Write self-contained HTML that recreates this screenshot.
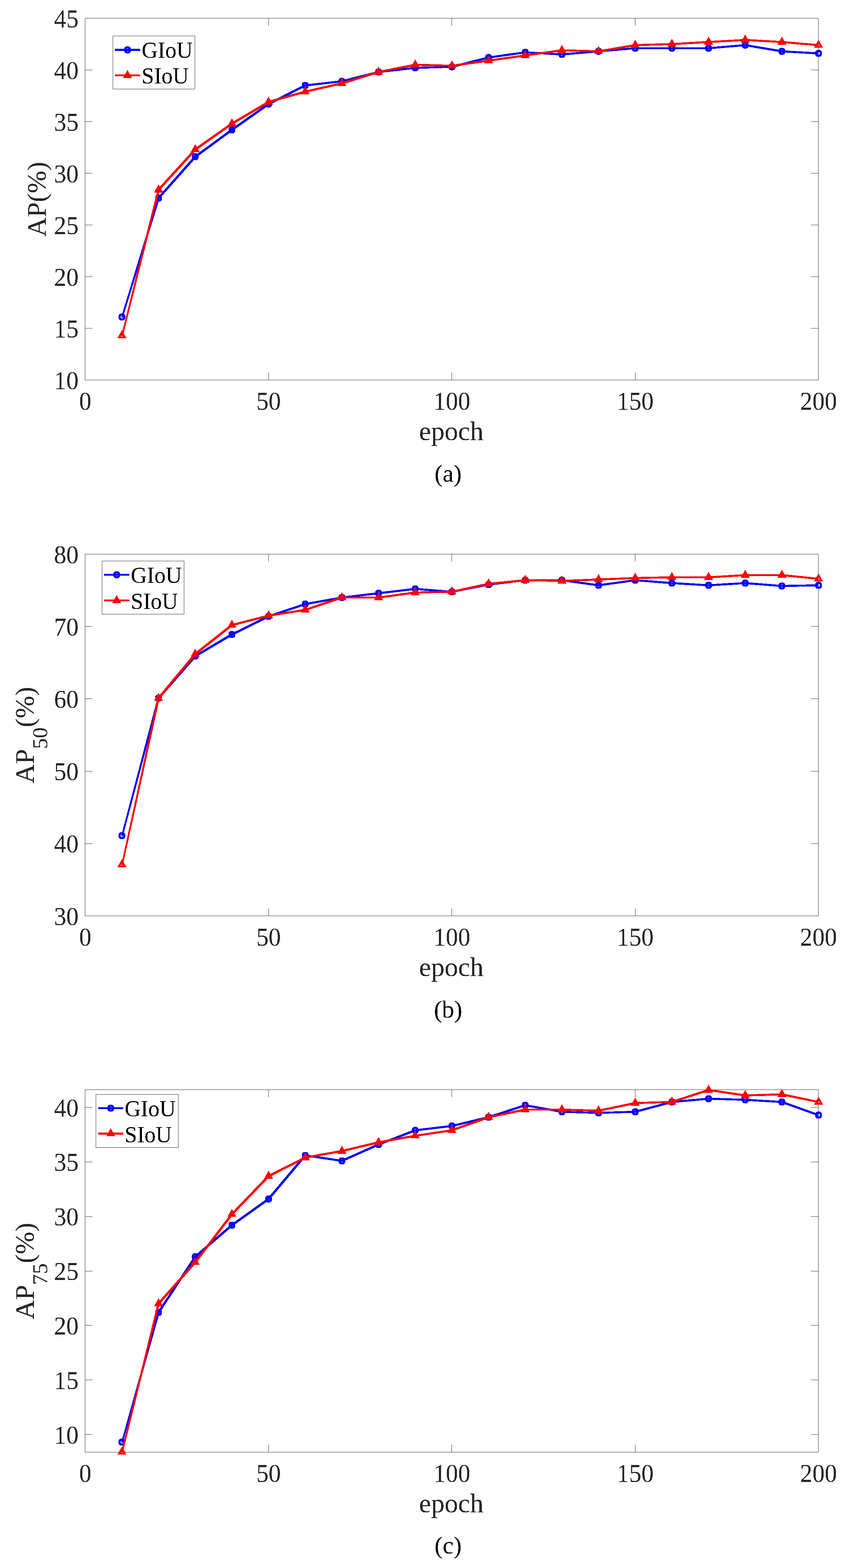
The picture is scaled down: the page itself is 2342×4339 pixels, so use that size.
<!DOCTYPE html>
<html lang="en"><head><meta charset="utf-8"><title>AP curves: GIoU vs SIoU</title>
<style>
html,body{margin:0;padding:0;background:#fff;}
body{width:2342px;height:4339px;overflow:hidden;}
svg{display:block;}
text{font-family:"Liberation Serif", "DejaVu Serif", serif;filter:url(#bw);}
.tk{font-size:68px;fill:#262626;}
.lb{font-size:74.8px;fill:#262626;}
.sb{font-size:60px;}
.lg{font-size:62px;fill:#000;}
.cp{font-size:67.5px;fill:#000;}
.ax{stroke:#262626;stroke-width:1;fill:none;shape-rendering:crispEdges;}
.bl{stroke:#0000ff;stroke-width:2.95;fill:none;stroke-linejoin:round;shape-rendering:crispEdges;}
.bk{stroke:#0000ff;stroke-width:5.6;fill:none;shape-rendering:crispEdges;}
.rd{stroke:#ff0000;stroke-width:2.95;fill:none;stroke-linejoin:round;shape-rendering:crispEdges;}
.rk{stroke:#ff0000;stroke-width:5.6;fill:none;shape-rendering:crispEdges;}
.rt{fill:#ff0000;fill-rule:evenodd;stroke:none;shape-rendering:crispEdges;}
.bc{fill:#0000ff;fill-rule:evenodd;stroke:none;shape-rendering:crispEdges;}
</style></head><body>
<svg width="2342" height="4339" viewBox="0 0 2342 4339">
<defs><filter id="bw" x="-5%" y="-20%" width="110%" height="140%" color-interpolation-filters="sRGB"><feComponentTransfer><feFuncA type="discrete" tableValues="0 1"/></feComponentTransfer></filter></defs>
<rect width="2342" height="4339" fill="#fff"/>
<g id="chart1">
<path class="ax" d="M235.5 50.5H2265.5V1051.5H235.5ZM743.5 1051.5v-20.5M743.5 50.5v20.5M1250.5 1051.5v-20.5M1250.5 50.5v20.5M1758.5 1051.5v-20.5M1758.5 50.5v20.5M235.5 908.5h20.5M2265.5 908.5h-20.5M235.5 765.5h20.5M2265.5 765.5h-20.5M235.5 622.5h20.5M2265.5 622.5h-20.5M235.5 479.5h20.5M2265.5 479.5h-20.5M235.5 336.5h20.5M2265.5 336.5h-20.5M235.5 193.5h20.5M2265.5 193.5h-20.5"/>
<text class="tk" transform="translate(236 1133.5) scale(1 1.045)" text-anchor="middle">0</text>
<text class="tk" transform="translate(743.5 1133.5) scale(1 1.045)" text-anchor="middle">50</text>
<text class="tk" transform="translate(1251 1133.5) scale(1 1.045)" text-anchor="middle">100</text>
<text class="tk" transform="translate(1758.5 1133.5) scale(1 1.045)" text-anchor="middle">150</text>
<text class="tk" transform="translate(2266 1133.5) scale(1 1.045)" text-anchor="middle">200</text>
<text class="tk" transform="translate(217.5 1076.5) scale(1 1.045)" text-anchor="end">10</text>
<text class="tk" transform="translate(217.5 933.5) scale(1 1.045)" text-anchor="end">15</text>
<text class="tk" transform="translate(217.5 790.5) scale(1 1.045)" text-anchor="end">20</text>
<text class="tk" transform="translate(217.5 647.5) scale(1 1.045)" text-anchor="end">25</text>
<text class="tk" transform="translate(217.5 504.5) scale(1 1.045)" text-anchor="end">30</text>
<text class="tk" transform="translate(217.5 361.5) scale(1 1.045)" text-anchor="end">35</text>
<text class="tk" transform="translate(217.5 218.5) scale(1 1.045)" text-anchor="end">40</text>
<text class="tk" transform="translate(217.5 75.5) scale(1 1.045)" text-anchor="end">45</text>
<text class="lb" x="1249.4" y="1218" text-anchor="middle">epoch</text>
<text class="lb" transform="translate(126.8 551.5) rotate(-90)" text-anchor="middle">AP(%)</text>
<text class="cp" x="1240.5" y="1332.8" text-anchor="middle">(a)</text>
<path class="bl" d="M337.5 877.04L439 548.14L540.5 433.74L642 359.38L743.5 287.88L845 236.4L946.5 224.96L1048 199.22L1149.5 187.78L1251 184.92L1352.5 159.18L1454 144.88L1555.5 150.6L1657 142.02L1758.5 133.44L1860 133.44L1961.5 133.44L2063 124.86L2164.5 142.02L2266 147.74M338.78 878.32L440.28 549.42L541.78 435.02L643.28 360.66L744.78 289.16L846.28 237.68L947.78 226.24L1049.28 200.5L1150.78 189.06L1252.28 186.2L1353.78 160.46L1455.28 146.16L1556.78 151.88L1658.28 143.3L1759.78 134.72L1861.28 134.72L1962.78 134.72L2064.28 126.14L2165.78 143.3L2266 149.02M338.78 875.76L440.28 546.86L541.78 432.46L643.28 358.1L744.78 286.6L846.28 235.12L947.78 223.68L1049.28 197.94L1150.78 186.5L1252.28 183.64L1353.78 157.9L1455.28 143.6L1556.78 149.32L1658.28 140.74L1759.78 132.16L1861.28 132.16L1962.78 132.16L2064.28 123.58L2165.78 140.74L2266 146.46M337.5 878.32L437.72 549.42L539.22 435.02L640.72 360.66L742.22 289.16L843.72 237.68L945.22 226.24L1046.72 200.5L1148.22 189.06L1249.72 186.2L1351.22 160.46L1452.72 146.16L1554.22 151.88L1655.72 143.3L1757.22 134.72L1858.72 134.72L1960.22 134.72L2061.72 126.14L2163.22 143.3L2264.72 149.02M337.5 875.76L437.72 546.86L539.22 432.46L640.72 358.1L742.22 286.6L843.72 235.12L945.22 223.68L1046.72 197.94L1148.22 186.5L1249.72 183.64L1351.22 157.9L1452.72 143.6L1554.22 149.32L1655.72 140.74L1757.22 132.16L1858.72 132.16L1960.22 132.16L2061.72 123.58L2163.22 140.74L2264.72 146.46"/>
<path class="bc" transform="translate(337.5 877.04)" d="M-1.85-9.7H1.85A7.45 7.45 0 0 1 9.3-2.25V2.25A7.45 7.45 0 0 1 1.85 9.7H-1.85A7.45 7.45 0 0 1-9.3 2.25V-2.25A7.45 7.45 0 0 1-1.85-9.7ZM0-3.8A3.8 3.8 0 0 0 0 3.8A3.8 3.8 0 0 0 0-3.8Z"/>
<path class="bc" transform="translate(439 548.14)" d="M-1.85-9.7H1.85A7.45 7.45 0 0 1 9.3-2.25V2.25A7.45 7.45 0 0 1 1.85 9.7H-1.85A7.45 7.45 0 0 1-9.3 2.25V-2.25A7.45 7.45 0 0 1-1.85-9.7ZM0-3.8A3.8 3.8 0 0 0 0 3.8A3.8 3.8 0 0 0 0-3.8Z"/>
<path class="bc" transform="translate(540.5 433.74)" d="M-1.85-9.7H1.85A7.45 7.45 0 0 1 9.3-2.25V2.25A7.45 7.45 0 0 1 1.85 9.7H-1.85A7.45 7.45 0 0 1-9.3 2.25V-2.25A7.45 7.45 0 0 1-1.85-9.7ZM0-3.8A3.8 3.8 0 0 0 0 3.8A3.8 3.8 0 0 0 0-3.8Z"/>
<path class="bc" transform="translate(642 359.38)" d="M-1.85-9.7H1.85A7.45 7.45 0 0 1 9.3-2.25V2.25A7.45 7.45 0 0 1 1.85 9.7H-1.85A7.45 7.45 0 0 1-9.3 2.25V-2.25A7.45 7.45 0 0 1-1.85-9.7ZM0-3.8A3.8 3.8 0 0 0 0 3.8A3.8 3.8 0 0 0 0-3.8Z"/>
<path class="bc" transform="translate(743.5 287.88)" d="M-1.85-9.7H1.85A7.45 7.45 0 0 1 9.3-2.25V2.25A7.45 7.45 0 0 1 1.85 9.7H-1.85A7.45 7.45 0 0 1-9.3 2.25V-2.25A7.45 7.45 0 0 1-1.85-9.7ZM0-3.8A3.8 3.8 0 0 0 0 3.8A3.8 3.8 0 0 0 0-3.8Z"/>
<path class="bc" transform="translate(845 236.4)" d="M-1.85-9.7H1.85A7.45 7.45 0 0 1 9.3-2.25V2.25A7.45 7.45 0 0 1 1.85 9.7H-1.85A7.45 7.45 0 0 1-9.3 2.25V-2.25A7.45 7.45 0 0 1-1.85-9.7ZM0-3.8A3.8 3.8 0 0 0 0 3.8A3.8 3.8 0 0 0 0-3.8Z"/>
<path class="bc" transform="translate(946.5 224.96)" d="M-1.85-9.7H1.85A7.45 7.45 0 0 1 9.3-2.25V2.25A7.45 7.45 0 0 1 1.85 9.7H-1.85A7.45 7.45 0 0 1-9.3 2.25V-2.25A7.45 7.45 0 0 1-1.85-9.7ZM0-3.8A3.8 3.8 0 0 0 0 3.8A3.8 3.8 0 0 0 0-3.8Z"/>
<path class="bc" transform="translate(1048 199.22)" d="M-1.85-9.7H1.85A7.45 7.45 0 0 1 9.3-2.25V2.25A7.45 7.45 0 0 1 1.85 9.7H-1.85A7.45 7.45 0 0 1-9.3 2.25V-2.25A7.45 7.45 0 0 1-1.85-9.7ZM0-3.8A3.8 3.8 0 0 0 0 3.8A3.8 3.8 0 0 0 0-3.8Z"/>
<path class="bc" transform="translate(1149.5 187.78)" d="M-1.85-9.7H1.85A7.45 7.45 0 0 1 9.3-2.25V2.25A7.45 7.45 0 0 1 1.85 9.7H-1.85A7.45 7.45 0 0 1-9.3 2.25V-2.25A7.45 7.45 0 0 1-1.85-9.7ZM0-3.8A3.8 3.8 0 0 0 0 3.8A3.8 3.8 0 0 0 0-3.8Z"/>
<path class="bc" transform="translate(1251 184.92)" d="M-1.85-9.7H1.85A7.45 7.45 0 0 1 9.3-2.25V2.25A7.45 7.45 0 0 1 1.85 9.7H-1.85A7.45 7.45 0 0 1-9.3 2.25V-2.25A7.45 7.45 0 0 1-1.85-9.7ZM0-3.8A3.8 3.8 0 0 0 0 3.8A3.8 3.8 0 0 0 0-3.8Z"/>
<path class="bc" transform="translate(1352.5 159.18)" d="M-1.85-9.7H1.85A7.45 7.45 0 0 1 9.3-2.25V2.25A7.45 7.45 0 0 1 1.85 9.7H-1.85A7.45 7.45 0 0 1-9.3 2.25V-2.25A7.45 7.45 0 0 1-1.85-9.7ZM0-3.8A3.8 3.8 0 0 0 0 3.8A3.8 3.8 0 0 0 0-3.8Z"/>
<path class="bc" transform="translate(1454 144.88)" d="M-1.85-9.7H1.85A7.45 7.45 0 0 1 9.3-2.25V2.25A7.45 7.45 0 0 1 1.85 9.7H-1.85A7.45 7.45 0 0 1-9.3 2.25V-2.25A7.45 7.45 0 0 1-1.85-9.7ZM0-3.8A3.8 3.8 0 0 0 0 3.8A3.8 3.8 0 0 0 0-3.8Z"/>
<path class="bc" transform="translate(1555.5 150.6)" d="M-1.85-9.7H1.85A7.45 7.45 0 0 1 9.3-2.25V2.25A7.45 7.45 0 0 1 1.85 9.7H-1.85A7.45 7.45 0 0 1-9.3 2.25V-2.25A7.45 7.45 0 0 1-1.85-9.7ZM0-3.8A3.8 3.8 0 0 0 0 3.8A3.8 3.8 0 0 0 0-3.8Z"/>
<path class="bc" transform="translate(1657 142.02)" d="M-1.85-9.7H1.85A7.45 7.45 0 0 1 9.3-2.25V2.25A7.45 7.45 0 0 1 1.85 9.7H-1.85A7.45 7.45 0 0 1-9.3 2.25V-2.25A7.45 7.45 0 0 1-1.85-9.7ZM0-3.8A3.8 3.8 0 0 0 0 3.8A3.8 3.8 0 0 0 0-3.8Z"/>
<path class="bc" transform="translate(1758.5 133.44)" d="M-1.85-9.7H1.85A7.45 7.45 0 0 1 9.3-2.25V2.25A7.45 7.45 0 0 1 1.85 9.7H-1.85A7.45 7.45 0 0 1-9.3 2.25V-2.25A7.45 7.45 0 0 1-1.85-9.7ZM0-3.8A3.8 3.8 0 0 0 0 3.8A3.8 3.8 0 0 0 0-3.8Z"/>
<path class="bc" transform="translate(1860 133.44)" d="M-1.85-9.7H1.85A7.45 7.45 0 0 1 9.3-2.25V2.25A7.45 7.45 0 0 1 1.85 9.7H-1.85A7.45 7.45 0 0 1-9.3 2.25V-2.25A7.45 7.45 0 0 1-1.85-9.7ZM0-3.8A3.8 3.8 0 0 0 0 3.8A3.8 3.8 0 0 0 0-3.8Z"/>
<path class="bc" transform="translate(1961.5 133.44)" d="M-1.85-9.7H1.85A7.45 7.45 0 0 1 9.3-2.25V2.25A7.45 7.45 0 0 1 1.85 9.7H-1.85A7.45 7.45 0 0 1-9.3 2.25V-2.25A7.45 7.45 0 0 1-1.85-9.7ZM0-3.8A3.8 3.8 0 0 0 0 3.8A3.8 3.8 0 0 0 0-3.8Z"/>
<path class="bc" transform="translate(2063 124.86)" d="M-1.85-9.7H1.85A7.45 7.45 0 0 1 9.3-2.25V2.25A7.45 7.45 0 0 1 1.85 9.7H-1.85A7.45 7.45 0 0 1-9.3 2.25V-2.25A7.45 7.45 0 0 1-1.85-9.7ZM0-3.8A3.8 3.8 0 0 0 0 3.8A3.8 3.8 0 0 0 0-3.8Z"/>
<path class="bc" transform="translate(2164.5 142.02)" d="M-1.85-9.7H1.85A7.45 7.45 0 0 1 9.3-2.25V2.25A7.45 7.45 0 0 1 1.85 9.7H-1.85A7.45 7.45 0 0 1-9.3 2.25V-2.25A7.45 7.45 0 0 1-1.85-9.7ZM0-3.8A3.8 3.8 0 0 0 0 3.8A3.8 3.8 0 0 0 0-3.8Z"/>
<path class="bc" transform="translate(2266 147.74)" d="M-1.85-9.7H1.85A7.45 7.45 0 0 1 9.3-2.25V2.25A7.45 7.45 0 0 1 1.85 9.7H-1.85A7.45 7.45 0 0 1-9.3 2.25V-2.25A7.45 7.45 0 0 1-1.85-9.7ZM0-3.8A3.8 3.8 0 0 0 0 3.8A3.8 3.8 0 0 0 0-3.8Z"/>
<path class="rd" d="M337.5 928.52L439 525.26L540.5 413.72L642 342.22L743.5 282.16L845 253.56L946.5 230.68L1048 199.22L1149.5 179.2L1251 182.06L1352.5 167.76L1454 153.46L1555.5 139.16L1657 142.02L1758.5 124.86L1860 122L1961.5 116.28L2063 110.56L2164.5 116.28L2266 124.86M338.78 929.8L440.28 526.54L541.78 415L643.28 343.5L744.78 283.44L846.28 254.84L947.78 231.96L1049.28 200.5L1150.78 180.48L1252.28 183.34L1353.78 169.04L1455.28 154.74L1556.78 140.44L1658.28 143.3L1759.78 126.14L1861.28 123.28L1962.78 117.56L2064.28 111.84L2165.78 117.56L2266 126.14M338.78 927.24L440.28 523.98L541.78 412.44L643.28 340.94L744.78 280.88L846.28 252.28L947.78 229.4L1049.28 197.94L1150.78 177.92L1252.28 180.78L1353.78 166.48L1455.28 152.18L1556.78 137.88L1658.28 140.74L1759.78 123.58L1861.28 120.72L1962.78 115L2064.28 109.28L2165.78 115L2266 123.58M337.5 929.8L437.72 526.54L539.22 415L640.72 343.5L742.22 283.44L843.72 254.84L945.22 231.96L1046.72 200.5L1148.22 180.48L1249.72 183.34L1351.22 169.04L1452.72 154.74L1554.22 140.44L1655.72 143.3L1757.22 126.14L1858.72 123.28L1960.22 117.56L2061.72 111.84L2163.22 117.56L2264.72 126.14M337.5 927.24L437.72 523.98L539.22 412.44L640.72 340.94L742.22 280.88L843.72 252.28L945.22 229.4L1046.72 197.94L1148.22 177.92L1249.72 180.78L1351.22 166.48L1452.72 152.18L1554.22 137.88L1655.72 140.74L1757.22 123.58L1858.72 120.72L1960.22 115L2061.72 109.28L2163.22 115L2264.72 123.58"/>
<path class="rt" transform="translate(337.5 928.52)" d="M0-15L12.5 7.35H-12.5ZM0-2.8L-3.5 2.3H3.5Z"/>
<path class="rt" transform="translate(439 525.26)" d="M0-15L12.5 7.35H-12.5ZM0-2.8L-3.5 2.3H3.5Z"/>
<path class="rt" transform="translate(540.5 413.72)" d="M0-15L12.5 7.35H-12.5ZM0-2.8L-3.5 2.3H3.5Z"/>
<path class="rt" transform="translate(642 342.22)" d="M0-15L12.5 7.35H-12.5ZM0-2.8L-3.5 2.3H3.5Z"/>
<path class="rt" transform="translate(743.5 282.16)" d="M0-15L12.5 7.35H-12.5ZM0-2.8L-3.5 2.3H3.5Z"/>
<path class="rt" transform="translate(845 253.56)" d="M0-15L12.5 7.35H-12.5ZM0-2.8L-3.5 2.3H3.5Z"/>
<path class="rt" transform="translate(946.5 230.68)" d="M0-15L12.5 7.35H-12.5ZM0-2.8L-3.5 2.3H3.5Z"/>
<path class="rt" transform="translate(1048 199.22)" d="M0-15L12.5 7.35H-12.5ZM0-2.8L-3.5 2.3H3.5Z"/>
<path class="rt" transform="translate(1149.5 179.2)" d="M0-15L12.5 7.35H-12.5ZM0-2.8L-3.5 2.3H3.5Z"/>
<path class="rt" transform="translate(1251 182.06)" d="M0-15L12.5 7.35H-12.5ZM0-2.8L-3.5 2.3H3.5Z"/>
<path class="rt" transform="translate(1352.5 167.76)" d="M0-15L12.5 7.35H-12.5ZM0-2.8L-3.5 2.3H3.5Z"/>
<path class="rt" transform="translate(1454 153.46)" d="M0-15L12.5 7.35H-12.5ZM0-2.8L-3.5 2.3H3.5Z"/>
<path class="rt" transform="translate(1555.5 139.16)" d="M0-15L12.5 7.35H-12.5ZM0-2.8L-3.5 2.3H3.5Z"/>
<path class="rt" transform="translate(1657 142.02)" d="M0-15L12.5 7.35H-12.5ZM0-2.8L-3.5 2.3H3.5Z"/>
<path class="rt" transform="translate(1758.5 124.86)" d="M0-15L12.5 7.35H-12.5ZM0-2.8L-3.5 2.3H3.5Z"/>
<path class="rt" transform="translate(1860 122)" d="M0-15L12.5 7.35H-12.5ZM0-2.8L-3.5 2.3H3.5Z"/>
<path class="rt" transform="translate(1961.5 116.28)" d="M0-15L12.5 7.35H-12.5ZM0-2.8L-3.5 2.3H3.5Z"/>
<path class="rt" transform="translate(2063 110.56)" d="M0-15L12.5 7.35H-12.5ZM0-2.8L-3.5 2.3H3.5Z"/>
<path class="rt" transform="translate(2164.5 116.28)" d="M0-15L12.5 7.35H-12.5ZM0-2.8L-3.5 2.3H3.5Z"/>
<path class="rt" transform="translate(2266 124.86)" d="M0-15L12.5 7.35H-12.5ZM0-2.8L-3.5 2.3H3.5Z"/>
<rect x="312.5" y="99.5" width="227" height="147" fill="#fff" stroke="#262626" stroke-width="1" shape-rendering="crispEdges"/>
<path class="bk" d="M318 138H388"/>
<path class="bc" transform="translate(353 138)" d="M-1.85-9.7H1.85A7.45 7.45 0 0 1 9.3-2.25V2.25A7.45 7.45 0 0 1 1.85 9.7H-1.85A7.45 7.45 0 0 1-9.3 2.25V-2.25A7.45 7.45 0 0 1-1.85-9.7ZM0-3.8A3.8 3.8 0 0 0 0 3.8A3.8 3.8 0 0 0 0-3.8Z"/>
<path class="rk" d="M318 208.5H388"/>
<path class="rt" transform="translate(353 208.5)" d="M0-15L12.5 7.35H-12.5ZM0-2.8L-3.5 2.3H3.5Z"/>
<text class="lg" transform="translate(392 159.9) scale(1 1.02)">GIoU</text>
<text class="lg" transform="translate(392 231.4) scale(1 1.02)">SIoU</text>
</g>
<g id="chart2">
<path class="ax" d="M235.5 1533.5H2265.5V2534.5H235.5ZM743.5 2534.5v-20.5M743.5 1533.5v20.5M1250.5 2534.5v-20.5M1250.5 1533.5v20.5M1758.5 2534.5v-20.5M1758.5 1533.5v20.5M235.5 2334.5h20.5M2265.5 2334.5h-20.5M235.5 2134.5h20.5M2265.5 2134.5h-20.5M235.5 1933.5h20.5M2265.5 1933.5h-20.5M235.5 1733.5h20.5M2265.5 1733.5h-20.5"/>
<text class="tk" transform="translate(236 2616.5) scale(1 1.045)" text-anchor="middle">0</text>
<text class="tk" transform="translate(743.5 2616.5) scale(1 1.045)" text-anchor="middle">50</text>
<text class="tk" transform="translate(1251 2616.5) scale(1 1.045)" text-anchor="middle">100</text>
<text class="tk" transform="translate(1758.5 2616.5) scale(1 1.045)" text-anchor="middle">150</text>
<text class="tk" transform="translate(2266 2616.5) scale(1 1.045)" text-anchor="middle">200</text>
<text class="tk" transform="translate(217.5 2559.5) scale(1 1.045)" text-anchor="end">30</text>
<text class="tk" transform="translate(217.5 2359.3) scale(1 1.045)" text-anchor="end">40</text>
<text class="tk" transform="translate(217.5 2159.1) scale(1 1.045)" text-anchor="end">50</text>
<text class="tk" transform="translate(217.5 1958.9) scale(1 1.045)" text-anchor="end">60</text>
<text class="tk" transform="translate(217.5 1758.7) scale(1 1.045)" text-anchor="end">70</text>
<text class="tk" transform="translate(217.5 1558.5) scale(1 1.045)" text-anchor="end">80</text>
<text class="lb" x="1249.4" y="2701" text-anchor="middle">epoch</text>
<text class="lb" transform="translate(93.6 2034.5) rotate(-90)" text-anchor="middle">AP<tspan class="sb" dy="37.4">50</tspan><tspan dy="-37.4">(%)</tspan></text>
<text class="cp" x="1240.5" y="2815.8" text-anchor="middle">(b)</text>
<path class="bl" d="M337.5 2312.28L439 1931.9L540.5 1815.78L642 1755.72L743.5 1705.67L845 1671.64L946.5 1653.62L1048 1641.61L1149.5 1629.6L1251 1637.6L1352.5 1617.58L1454 1605.57L1555.5 1605.57L1657 1619.59L1758.5 1605.57L1860 1613.58L1961.5 1619.59L2063 1613.58L2164.5 1621.59L2266 1619.59M338.78 2313.56L440.28 1933.18L541.78 1817.06L643.28 1757L744.78 1706.95L846.28 1672.92L947.78 1654.9L1049.28 1642.89L1150.78 1630.88L1252.28 1638.88L1353.78 1618.86L1455.28 1606.85L1556.78 1606.85L1658.28 1620.87L1759.78 1606.85L1861.28 1614.86L1962.78 1620.87L2064.28 1614.86L2165.78 1622.87L2266 1620.87M338.78 2311L440.28 1930.62L541.78 1814.5L643.28 1754.44L744.78 1704.39L846.28 1670.36L947.78 1652.34L1049.28 1640.33L1150.78 1628.32L1252.28 1636.32L1353.78 1616.3L1455.28 1604.29L1556.78 1604.29L1658.28 1618.31L1759.78 1604.29L1861.28 1612.3L1962.78 1618.31L2064.28 1612.3L2165.78 1620.31L2266 1618.31M337.5 2313.56L437.72 1933.18L539.22 1817.06L640.72 1757L742.22 1706.95L843.72 1672.92L945.22 1654.9L1046.72 1642.89L1148.22 1630.88L1249.72 1638.88L1351.22 1618.86L1452.72 1606.85L1554.22 1606.85L1655.72 1620.87L1757.22 1606.85L1858.72 1614.86L1960.22 1620.87L2061.72 1614.86L2163.22 1622.87L2264.72 1620.87M337.5 2311L437.72 1930.62L539.22 1814.5L640.72 1754.44L742.22 1704.39L843.72 1670.36L945.22 1652.34L1046.72 1640.33L1148.22 1628.32L1249.72 1636.32L1351.22 1616.3L1452.72 1604.29L1554.22 1604.29L1655.72 1618.31L1757.22 1604.29L1858.72 1612.3L1960.22 1618.31L2061.72 1612.3L2163.22 1620.31L2264.72 1618.31"/>
<path class="bc" transform="translate(337.5 2312.28)" d="M-1.85-9.7H1.85A7.45 7.45 0 0 1 9.3-2.25V2.25A7.45 7.45 0 0 1 1.85 9.7H-1.85A7.45 7.45 0 0 1-9.3 2.25V-2.25A7.45 7.45 0 0 1-1.85-9.7ZM0-3.8A3.8 3.8 0 0 0 0 3.8A3.8 3.8 0 0 0 0-3.8Z"/>
<path class="bc" transform="translate(439 1931.9)" d="M-1.85-9.7H1.85A7.45 7.45 0 0 1 9.3-2.25V2.25A7.45 7.45 0 0 1 1.85 9.7H-1.85A7.45 7.45 0 0 1-9.3 2.25V-2.25A7.45 7.45 0 0 1-1.85-9.7ZM0-3.8A3.8 3.8 0 0 0 0 3.8A3.8 3.8 0 0 0 0-3.8Z"/>
<path class="bc" transform="translate(540.5 1815.78)" d="M-1.85-9.7H1.85A7.45 7.45 0 0 1 9.3-2.25V2.25A7.45 7.45 0 0 1 1.85 9.7H-1.85A7.45 7.45 0 0 1-9.3 2.25V-2.25A7.45 7.45 0 0 1-1.85-9.7ZM0-3.8A3.8 3.8 0 0 0 0 3.8A3.8 3.8 0 0 0 0-3.8Z"/>
<path class="bc" transform="translate(642 1755.72)" d="M-1.85-9.7H1.85A7.45 7.45 0 0 1 9.3-2.25V2.25A7.45 7.45 0 0 1 1.85 9.7H-1.85A7.45 7.45 0 0 1-9.3 2.25V-2.25A7.45 7.45 0 0 1-1.85-9.7ZM0-3.8A3.8 3.8 0 0 0 0 3.8A3.8 3.8 0 0 0 0-3.8Z"/>
<path class="bc" transform="translate(743.5 1705.67)" d="M-1.85-9.7H1.85A7.45 7.45 0 0 1 9.3-2.25V2.25A7.45 7.45 0 0 1 1.85 9.7H-1.85A7.45 7.45 0 0 1-9.3 2.25V-2.25A7.45 7.45 0 0 1-1.85-9.7ZM0-3.8A3.8 3.8 0 0 0 0 3.8A3.8 3.8 0 0 0 0-3.8Z"/>
<path class="bc" transform="translate(845 1671.64)" d="M-1.85-9.7H1.85A7.45 7.45 0 0 1 9.3-2.25V2.25A7.45 7.45 0 0 1 1.85 9.7H-1.85A7.45 7.45 0 0 1-9.3 2.25V-2.25A7.45 7.45 0 0 1-1.85-9.7ZM0-3.8A3.8 3.8 0 0 0 0 3.8A3.8 3.8 0 0 0 0-3.8Z"/>
<path class="bc" transform="translate(946.5 1653.62)" d="M-1.85-9.7H1.85A7.45 7.45 0 0 1 9.3-2.25V2.25A7.45 7.45 0 0 1 1.85 9.7H-1.85A7.45 7.45 0 0 1-9.3 2.25V-2.25A7.45 7.45 0 0 1-1.85-9.7ZM0-3.8A3.8 3.8 0 0 0 0 3.8A3.8 3.8 0 0 0 0-3.8Z"/>
<path class="bc" transform="translate(1048 1641.61)" d="M-1.85-9.7H1.85A7.45 7.45 0 0 1 9.3-2.25V2.25A7.45 7.45 0 0 1 1.85 9.7H-1.85A7.45 7.45 0 0 1-9.3 2.25V-2.25A7.45 7.45 0 0 1-1.85-9.7ZM0-3.8A3.8 3.8 0 0 0 0 3.8A3.8 3.8 0 0 0 0-3.8Z"/>
<path class="bc" transform="translate(1149.5 1629.6)" d="M-1.85-9.7H1.85A7.45 7.45 0 0 1 9.3-2.25V2.25A7.45 7.45 0 0 1 1.85 9.7H-1.85A7.45 7.45 0 0 1-9.3 2.25V-2.25A7.45 7.45 0 0 1-1.85-9.7ZM0-3.8A3.8 3.8 0 0 0 0 3.8A3.8 3.8 0 0 0 0-3.8Z"/>
<path class="bc" transform="translate(1251 1637.6)" d="M-1.85-9.7H1.85A7.45 7.45 0 0 1 9.3-2.25V2.25A7.45 7.45 0 0 1 1.85 9.7H-1.85A7.45 7.45 0 0 1-9.3 2.25V-2.25A7.45 7.45 0 0 1-1.85-9.7ZM0-3.8A3.8 3.8 0 0 0 0 3.8A3.8 3.8 0 0 0 0-3.8Z"/>
<path class="bc" transform="translate(1352.5 1617.58)" d="M-1.85-9.7H1.85A7.45 7.45 0 0 1 9.3-2.25V2.25A7.45 7.45 0 0 1 1.85 9.7H-1.85A7.45 7.45 0 0 1-9.3 2.25V-2.25A7.45 7.45 0 0 1-1.85-9.7ZM0-3.8A3.8 3.8 0 0 0 0 3.8A3.8 3.8 0 0 0 0-3.8Z"/>
<path class="bc" transform="translate(1454 1605.57)" d="M-1.85-9.7H1.85A7.45 7.45 0 0 1 9.3-2.25V2.25A7.45 7.45 0 0 1 1.85 9.7H-1.85A7.45 7.45 0 0 1-9.3 2.25V-2.25A7.45 7.45 0 0 1-1.85-9.7ZM0-3.8A3.8 3.8 0 0 0 0 3.8A3.8 3.8 0 0 0 0-3.8Z"/>
<path class="bc" transform="translate(1555.5 1605.57)" d="M-1.85-9.7H1.85A7.45 7.45 0 0 1 9.3-2.25V2.25A7.45 7.45 0 0 1 1.85 9.7H-1.85A7.45 7.45 0 0 1-9.3 2.25V-2.25A7.45 7.45 0 0 1-1.85-9.7ZM0-3.8A3.8 3.8 0 0 0 0 3.8A3.8 3.8 0 0 0 0-3.8Z"/>
<path class="bc" transform="translate(1657 1619.59)" d="M-1.85-9.7H1.85A7.45 7.45 0 0 1 9.3-2.25V2.25A7.45 7.45 0 0 1 1.85 9.7H-1.85A7.45 7.45 0 0 1-9.3 2.25V-2.25A7.45 7.45 0 0 1-1.85-9.7ZM0-3.8A3.8 3.8 0 0 0 0 3.8A3.8 3.8 0 0 0 0-3.8Z"/>
<path class="bc" transform="translate(1758.5 1605.57)" d="M-1.85-9.7H1.85A7.45 7.45 0 0 1 9.3-2.25V2.25A7.45 7.45 0 0 1 1.85 9.7H-1.85A7.45 7.45 0 0 1-9.3 2.25V-2.25A7.45 7.45 0 0 1-1.85-9.7ZM0-3.8A3.8 3.8 0 0 0 0 3.8A3.8 3.8 0 0 0 0-3.8Z"/>
<path class="bc" transform="translate(1860 1613.58)" d="M-1.85-9.7H1.85A7.45 7.45 0 0 1 9.3-2.25V2.25A7.45 7.45 0 0 1 1.85 9.7H-1.85A7.45 7.45 0 0 1-9.3 2.25V-2.25A7.45 7.45 0 0 1-1.85-9.7ZM0-3.8A3.8 3.8 0 0 0 0 3.8A3.8 3.8 0 0 0 0-3.8Z"/>
<path class="bc" transform="translate(1961.5 1619.59)" d="M-1.85-9.7H1.85A7.45 7.45 0 0 1 9.3-2.25V2.25A7.45 7.45 0 0 1 1.85 9.7H-1.85A7.45 7.45 0 0 1-9.3 2.25V-2.25A7.45 7.45 0 0 1-1.85-9.7ZM0-3.8A3.8 3.8 0 0 0 0 3.8A3.8 3.8 0 0 0 0-3.8Z"/>
<path class="bc" transform="translate(2063 1613.58)" d="M-1.85-9.7H1.85A7.45 7.45 0 0 1 9.3-2.25V2.25A7.45 7.45 0 0 1 1.85 9.7H-1.85A7.45 7.45 0 0 1-9.3 2.25V-2.25A7.45 7.45 0 0 1-1.85-9.7ZM0-3.8A3.8 3.8 0 0 0 0 3.8A3.8 3.8 0 0 0 0-3.8Z"/>
<path class="bc" transform="translate(2164.5 1621.59)" d="M-1.85-9.7H1.85A7.45 7.45 0 0 1 9.3-2.25V2.25A7.45 7.45 0 0 1 1.85 9.7H-1.85A7.45 7.45 0 0 1-9.3 2.25V-2.25A7.45 7.45 0 0 1-1.85-9.7ZM0-3.8A3.8 3.8 0 0 0 0 3.8A3.8 3.8 0 0 0 0-3.8Z"/>
<path class="bc" transform="translate(2266 1619.59)" d="M-1.85-9.7H1.85A7.45 7.45 0 0 1 9.3-2.25V2.25A7.45 7.45 0 0 1 1.85 9.7H-1.85A7.45 7.45 0 0 1-9.3 2.25V-2.25A7.45 7.45 0 0 1-1.85-9.7ZM0-3.8A3.8 3.8 0 0 0 0 3.8A3.8 3.8 0 0 0 0-3.8Z"/>
<path class="rd" d="M337.5 2392.36L439 1931.9L540.5 1809.78L642 1729.7L743.5 1703.67L845 1687.65L946.5 1653.62L1048 1653.62L1149.5 1639.61L1251 1637.6L1352.5 1615.58L1454 1605.57L1555.5 1607.57L1657 1603.57L1758.5 1599.57L1860 1597.56L1961.5 1597.56L2063 1591.56L2164.5 1591.56L2266 1601.57M338.78 2393.64L440.28 1933.18L541.78 1811.06L643.28 1730.98L744.78 1704.95L846.28 1688.93L947.78 1654.9L1049.28 1654.9L1150.78 1640.89L1252.28 1638.88L1353.78 1616.86L1455.28 1606.85L1556.78 1608.85L1658.28 1604.85L1759.78 1600.85L1861.28 1598.84L1962.78 1598.84L2064.28 1592.84L2165.78 1592.84L2266 1602.85M338.78 2391.08L440.28 1930.62L541.78 1808.5L643.28 1728.42L744.78 1702.39L846.28 1686.37L947.78 1652.34L1049.28 1652.34L1150.78 1638.33L1252.28 1636.32L1353.78 1614.3L1455.28 1604.29L1556.78 1606.29L1658.28 1602.29L1759.78 1598.29L1861.28 1596.28L1962.78 1596.28L2064.28 1590.28L2165.78 1590.28L2266 1600.29M337.5 2393.64L437.72 1933.18L539.22 1811.06L640.72 1730.98L742.22 1704.95L843.72 1688.93L945.22 1654.9L1046.72 1654.9L1148.22 1640.89L1249.72 1638.88L1351.22 1616.86L1452.72 1606.85L1554.22 1608.85L1655.72 1604.85L1757.22 1600.85L1858.72 1598.84L1960.22 1598.84L2061.72 1592.84L2163.22 1592.84L2264.72 1602.85M337.5 2391.08L437.72 1930.62L539.22 1808.5L640.72 1728.42L742.22 1702.39L843.72 1686.37L945.22 1652.34L1046.72 1652.34L1148.22 1638.33L1249.72 1636.32L1351.22 1614.3L1452.72 1604.29L1554.22 1606.29L1655.72 1602.29L1757.22 1598.29L1858.72 1596.28L1960.22 1596.28L2061.72 1590.28L2163.22 1590.28L2264.72 1600.29"/>
<path class="rt" transform="translate(337.5 2392.36)" d="M0-15L12.5 7.35H-12.5ZM0-2.8L-3.5 2.3H3.5Z"/>
<path class="rt" transform="translate(439 1931.9)" d="M0-15L12.5 7.35H-12.5ZM0-2.8L-3.5 2.3H3.5Z"/>
<path class="rt" transform="translate(540.5 1809.78)" d="M0-15L12.5 7.35H-12.5ZM0-2.8L-3.5 2.3H3.5Z"/>
<path class="rt" transform="translate(642 1729.7)" d="M0-15L12.5 7.35H-12.5ZM0-2.8L-3.5 2.3H3.5Z"/>
<path class="rt" transform="translate(743.5 1703.67)" d="M0-15L12.5 7.35H-12.5ZM0-2.8L-3.5 2.3H3.5Z"/>
<path class="rt" transform="translate(845 1687.65)" d="M0-15L12.5 7.35H-12.5ZM0-2.8L-3.5 2.3H3.5Z"/>
<path class="rt" transform="translate(946.5 1653.62)" d="M0-15L12.5 7.35H-12.5ZM0-2.8L-3.5 2.3H3.5Z"/>
<path class="rt" transform="translate(1048 1653.62)" d="M0-15L12.5 7.35H-12.5ZM0-2.8L-3.5 2.3H3.5Z"/>
<path class="rt" transform="translate(1149.5 1639.61)" d="M0-15L12.5 7.35H-12.5ZM0-2.8L-3.5 2.3H3.5Z"/>
<path class="rt" transform="translate(1251 1637.6)" d="M0-15L12.5 7.35H-12.5ZM0-2.8L-3.5 2.3H3.5Z"/>
<path class="rt" transform="translate(1352.5 1615.58)" d="M0-15L12.5 7.35H-12.5ZM0-2.8L-3.5 2.3H3.5Z"/>
<path class="rt" transform="translate(1454 1605.57)" d="M0-15L12.5 7.35H-12.5ZM0-2.8L-3.5 2.3H3.5Z"/>
<path class="rt" transform="translate(1555.5 1607.57)" d="M0-15L12.5 7.35H-12.5ZM0-2.8L-3.5 2.3H3.5Z"/>
<path class="rt" transform="translate(1657 1603.57)" d="M0-15L12.5 7.35H-12.5ZM0-2.8L-3.5 2.3H3.5Z"/>
<path class="rt" transform="translate(1758.5 1599.57)" d="M0-15L12.5 7.35H-12.5ZM0-2.8L-3.5 2.3H3.5Z"/>
<path class="rt" transform="translate(1860 1597.56)" d="M0-15L12.5 7.35H-12.5ZM0-2.8L-3.5 2.3H3.5Z"/>
<path class="rt" transform="translate(1961.5 1597.56)" d="M0-15L12.5 7.35H-12.5ZM0-2.8L-3.5 2.3H3.5Z"/>
<path class="rt" transform="translate(2063 1591.56)" d="M0-15L12.5 7.35H-12.5ZM0-2.8L-3.5 2.3H3.5Z"/>
<path class="rt" transform="translate(2164.5 1591.56)" d="M0-15L12.5 7.35H-12.5ZM0-2.8L-3.5 2.3H3.5Z"/>
<path class="rt" transform="translate(2266 1601.57)" d="M0-15L12.5 7.35H-12.5ZM0-2.8L-3.5 2.3H3.5Z"/>
<rect x="282.5" y="1552.5" width="227" height="147" fill="#fff" stroke="#262626" stroke-width="1" shape-rendering="crispEdges"/>
<path class="bk" d="M288 1590.5H358"/>
<path class="bc" transform="translate(323 1590.5)" d="M-1.85-9.7H1.85A7.45 7.45 0 0 1 9.3-2.25V2.25A7.45 7.45 0 0 1 1.85 9.7H-1.85A7.45 7.45 0 0 1-9.3 2.25V-2.25A7.45 7.45 0 0 1-1.85-9.7ZM0-3.8A3.8 3.8 0 0 0 0 3.8A3.8 3.8 0 0 0 0-3.8Z"/>
<path class="rk" d="M288 1661.5H358"/>
<path class="rt" transform="translate(323 1661.5)" d="M0-15L12.5 7.35H-12.5ZM0-2.8L-3.5 2.3H3.5Z"/>
<text class="lg" transform="translate(362 1613.1) scale(1 1.02)">GIoU</text>
<text class="lg" transform="translate(362 1684.6) scale(1 1.02)">SIoU</text>
</g>
<g id="chart3">
<path class="ax" d="M235.5 3015.5H2265.5V4018.5H235.5ZM743.5 4018.5v-20.5M743.5 3015.5v20.5M1250.5 4018.5v-20.5M1250.5 3015.5v20.5M1758.5 4018.5v-20.5M1758.5 3015.5v20.5M235.5 3969.5h20.5M2265.5 3969.5h-20.5M235.5 3818.5h20.5M2265.5 3818.5h-20.5M235.5 3667.5h20.5M2265.5 3667.5h-20.5M235.5 3517.5h20.5M2265.5 3517.5h-20.5M235.5 3366.5h20.5M2265.5 3366.5h-20.5M235.5 3215.5h20.5M2265.5 3215.5h-20.5M235.5 3064.5h20.5M2265.5 3064.5h-20.5"/>
<text class="tk" transform="translate(236 4100.5) scale(1 1.045)" text-anchor="middle">0</text>
<text class="tk" transform="translate(743.5 4100.5) scale(1 1.045)" text-anchor="middle">50</text>
<text class="tk" transform="translate(1251 4100.5) scale(1 1.045)" text-anchor="middle">100</text>
<text class="tk" transform="translate(1758.5 4100.5) scale(1 1.045)" text-anchor="middle">150</text>
<text class="tk" transform="translate(2266 4100.5) scale(1 1.045)" text-anchor="middle">200</text>
<text class="tk" transform="translate(217.5 3994.5) scale(1 1.045)" text-anchor="end">10</text>
<text class="tk" transform="translate(217.5 3843.67) scale(1 1.045)" text-anchor="end">15</text>
<text class="tk" transform="translate(217.5 3692.83) scale(1 1.045)" text-anchor="end">20</text>
<text class="tk" transform="translate(217.5 3542) scale(1 1.045)" text-anchor="end">25</text>
<text class="tk" transform="translate(217.5 3391.17) scale(1 1.045)" text-anchor="end">30</text>
<text class="tk" transform="translate(217.5 3240.33) scale(1 1.045)" text-anchor="end">35</text>
<text class="tk" transform="translate(217.5 3089.5) scale(1 1.045)" text-anchor="end">40</text>
<text class="lb" x="1249.4" y="4185" text-anchor="middle">epoch</text>
<text class="lb" transform="translate(93.6 3517.5) rotate(-90)" text-anchor="middle">AP<tspan class="sb" dy="37.4">75</tspan><tspan dy="-37.4">(%)</tspan></text>
<text class="cp" x="1240.5" y="4298.8" text-anchor="middle">(c)</text>
<path class="bl" d="M337.5 3990.62L439 3631.63L540.5 3477.78L642 3390.3L743.5 3317.9L845 3197.23L946.5 3212.32L1048 3167.07L1149.5 3127.85L1251 3115.78L1352.5 3091.65L1454 3058.47L1555.5 3076.57L1657 3079.58L1758.5 3076.57L1860 3049.42L1961.5 3040.37L2063 3043.38L2164.5 3049.42L2266 3085.62M338.78 3991.9L440.28 3632.91L541.78 3479.06L643.28 3391.58L744.78 3319.18L846.28 3198.51L947.78 3213.6L1049.28 3168.35L1150.78 3129.13L1252.28 3117.06L1353.78 3092.93L1455.28 3059.75L1556.78 3077.85L1658.28 3080.86L1759.78 3077.85L1861.28 3050.7L1962.78 3041.65L2064.28 3044.66L2165.78 3050.7L2266 3086.9M338.78 3989.34L440.28 3630.35L541.78 3476.5L643.28 3389.02L744.78 3316.62L846.28 3195.95L947.78 3211.04L1049.28 3165.79L1150.78 3126.57L1252.28 3114.5L1353.78 3090.37L1455.28 3057.19L1556.78 3075.29L1658.28 3078.3L1759.78 3075.29L1861.28 3048.14L1962.78 3039.09L2064.28 3042.1L2165.78 3048.14L2266 3084.34M337.5 3991.9L437.72 3632.91L539.22 3479.06L640.72 3391.58L742.22 3319.18L843.72 3198.51L945.22 3213.6L1046.72 3168.35L1148.22 3129.13L1249.72 3117.06L1351.22 3092.93L1452.72 3059.75L1554.22 3077.85L1655.72 3080.86L1757.22 3077.85L1858.72 3050.7L1960.22 3041.65L2061.72 3044.66L2163.22 3050.7L2264.72 3086.9M337.5 3989.34L437.72 3630.35L539.22 3476.5L640.72 3389.02L742.22 3316.62L843.72 3195.95L945.22 3211.04L1046.72 3165.79L1148.22 3126.57L1249.72 3114.5L1351.22 3090.37L1452.72 3057.19L1554.22 3075.29L1655.72 3078.3L1757.22 3075.29L1858.72 3048.14L1960.22 3039.09L2061.72 3042.1L2163.22 3048.14L2264.72 3084.34"/>
<path class="bc" transform="translate(337.5 3990.62)" d="M-1.85-9.7H1.85A7.45 7.45 0 0 1 9.3-2.25V2.25A7.45 7.45 0 0 1 1.85 9.7H-1.85A7.45 7.45 0 0 1-9.3 2.25V-2.25A7.45 7.45 0 0 1-1.85-9.7ZM0-3.8A3.8 3.8 0 0 0 0 3.8A3.8 3.8 0 0 0 0-3.8Z"/>
<path class="bc" transform="translate(439 3631.63)" d="M-1.85-9.7H1.85A7.45 7.45 0 0 1 9.3-2.25V2.25A7.45 7.45 0 0 1 1.85 9.7H-1.85A7.45 7.45 0 0 1-9.3 2.25V-2.25A7.45 7.45 0 0 1-1.85-9.7ZM0-3.8A3.8 3.8 0 0 0 0 3.8A3.8 3.8 0 0 0 0-3.8Z"/>
<path class="bc" transform="translate(540.5 3477.78)" d="M-1.85-9.7H1.85A7.45 7.45 0 0 1 9.3-2.25V2.25A7.45 7.45 0 0 1 1.85 9.7H-1.85A7.45 7.45 0 0 1-9.3 2.25V-2.25A7.45 7.45 0 0 1-1.85-9.7ZM0-3.8A3.8 3.8 0 0 0 0 3.8A3.8 3.8 0 0 0 0-3.8Z"/>
<path class="bc" transform="translate(642 3390.3)" d="M-1.85-9.7H1.85A7.45 7.45 0 0 1 9.3-2.25V2.25A7.45 7.45 0 0 1 1.85 9.7H-1.85A7.45 7.45 0 0 1-9.3 2.25V-2.25A7.45 7.45 0 0 1-1.85-9.7ZM0-3.8A3.8 3.8 0 0 0 0 3.8A3.8 3.8 0 0 0 0-3.8Z"/>
<path class="bc" transform="translate(743.5 3317.9)" d="M-1.85-9.7H1.85A7.45 7.45 0 0 1 9.3-2.25V2.25A7.45 7.45 0 0 1 1.85 9.7H-1.85A7.45 7.45 0 0 1-9.3 2.25V-2.25A7.45 7.45 0 0 1-1.85-9.7ZM0-3.8A3.8 3.8 0 0 0 0 3.8A3.8 3.8 0 0 0 0-3.8Z"/>
<path class="bc" transform="translate(845 3197.23)" d="M-1.85-9.7H1.85A7.45 7.45 0 0 1 9.3-2.25V2.25A7.45 7.45 0 0 1 1.85 9.7H-1.85A7.45 7.45 0 0 1-9.3 2.25V-2.25A7.45 7.45 0 0 1-1.85-9.7ZM0-3.8A3.8 3.8 0 0 0 0 3.8A3.8 3.8 0 0 0 0-3.8Z"/>
<path class="bc" transform="translate(946.5 3212.32)" d="M-1.85-9.7H1.85A7.45 7.45 0 0 1 9.3-2.25V2.25A7.45 7.45 0 0 1 1.85 9.7H-1.85A7.45 7.45 0 0 1-9.3 2.25V-2.25A7.45 7.45 0 0 1-1.85-9.7ZM0-3.8A3.8 3.8 0 0 0 0 3.8A3.8 3.8 0 0 0 0-3.8Z"/>
<path class="bc" transform="translate(1048 3167.07)" d="M-1.85-9.7H1.85A7.45 7.45 0 0 1 9.3-2.25V2.25A7.45 7.45 0 0 1 1.85 9.7H-1.85A7.45 7.45 0 0 1-9.3 2.25V-2.25A7.45 7.45 0 0 1-1.85-9.7ZM0-3.8A3.8 3.8 0 0 0 0 3.8A3.8 3.8 0 0 0 0-3.8Z"/>
<path class="bc" transform="translate(1149.5 3127.85)" d="M-1.85-9.7H1.85A7.45 7.45 0 0 1 9.3-2.25V2.25A7.45 7.45 0 0 1 1.85 9.7H-1.85A7.45 7.45 0 0 1-9.3 2.25V-2.25A7.45 7.45 0 0 1-1.85-9.7ZM0-3.8A3.8 3.8 0 0 0 0 3.8A3.8 3.8 0 0 0 0-3.8Z"/>
<path class="bc" transform="translate(1251 3115.78)" d="M-1.85-9.7H1.85A7.45 7.45 0 0 1 9.3-2.25V2.25A7.45 7.45 0 0 1 1.85 9.7H-1.85A7.45 7.45 0 0 1-9.3 2.25V-2.25A7.45 7.45 0 0 1-1.85-9.7ZM0-3.8A3.8 3.8 0 0 0 0 3.8A3.8 3.8 0 0 0 0-3.8Z"/>
<path class="bc" transform="translate(1352.5 3091.65)" d="M-1.85-9.7H1.85A7.45 7.45 0 0 1 9.3-2.25V2.25A7.45 7.45 0 0 1 1.85 9.7H-1.85A7.45 7.45 0 0 1-9.3 2.25V-2.25A7.45 7.45 0 0 1-1.85-9.7ZM0-3.8A3.8 3.8 0 0 0 0 3.8A3.8 3.8 0 0 0 0-3.8Z"/>
<path class="bc" transform="translate(1454 3058.47)" d="M-1.85-9.7H1.85A7.45 7.45 0 0 1 9.3-2.25V2.25A7.45 7.45 0 0 1 1.85 9.7H-1.85A7.45 7.45 0 0 1-9.3 2.25V-2.25A7.45 7.45 0 0 1-1.85-9.7ZM0-3.8A3.8 3.8 0 0 0 0 3.8A3.8 3.8 0 0 0 0-3.8Z"/>
<path class="bc" transform="translate(1555.5 3076.57)" d="M-1.85-9.7H1.85A7.45 7.45 0 0 1 9.3-2.25V2.25A7.45 7.45 0 0 1 1.85 9.7H-1.85A7.45 7.45 0 0 1-9.3 2.25V-2.25A7.45 7.45 0 0 1-1.85-9.7ZM0-3.8A3.8 3.8 0 0 0 0 3.8A3.8 3.8 0 0 0 0-3.8Z"/>
<path class="bc" transform="translate(1657 3079.58)" d="M-1.85-9.7H1.85A7.45 7.45 0 0 1 9.3-2.25V2.25A7.45 7.45 0 0 1 1.85 9.7H-1.85A7.45 7.45 0 0 1-9.3 2.25V-2.25A7.45 7.45 0 0 1-1.85-9.7ZM0-3.8A3.8 3.8 0 0 0 0 3.8A3.8 3.8 0 0 0 0-3.8Z"/>
<path class="bc" transform="translate(1758.5 3076.57)" d="M-1.85-9.7H1.85A7.45 7.45 0 0 1 9.3-2.25V2.25A7.45 7.45 0 0 1 1.85 9.7H-1.85A7.45 7.45 0 0 1-9.3 2.25V-2.25A7.45 7.45 0 0 1-1.85-9.7ZM0-3.8A3.8 3.8 0 0 0 0 3.8A3.8 3.8 0 0 0 0-3.8Z"/>
<path class="bc" transform="translate(1860 3049.42)" d="M-1.85-9.7H1.85A7.45 7.45 0 0 1 9.3-2.25V2.25A7.45 7.45 0 0 1 1.85 9.7H-1.85A7.45 7.45 0 0 1-9.3 2.25V-2.25A7.45 7.45 0 0 1-1.85-9.7ZM0-3.8A3.8 3.8 0 0 0 0 3.8A3.8 3.8 0 0 0 0-3.8Z"/>
<path class="bc" transform="translate(1961.5 3040.37)" d="M-1.85-9.7H1.85A7.45 7.45 0 0 1 9.3-2.25V2.25A7.45 7.45 0 0 1 1.85 9.7H-1.85A7.45 7.45 0 0 1-9.3 2.25V-2.25A7.45 7.45 0 0 1-1.85-9.7ZM0-3.8A3.8 3.8 0 0 0 0 3.8A3.8 3.8 0 0 0 0-3.8Z"/>
<path class="bc" transform="translate(2063 3043.38)" d="M-1.85-9.7H1.85A7.45 7.45 0 0 1 9.3-2.25V2.25A7.45 7.45 0 0 1 1.85 9.7H-1.85A7.45 7.45 0 0 1-9.3 2.25V-2.25A7.45 7.45 0 0 1-1.85-9.7ZM0-3.8A3.8 3.8 0 0 0 0 3.8A3.8 3.8 0 0 0 0-3.8Z"/>
<path class="bc" transform="translate(2164.5 3049.42)" d="M-1.85-9.7H1.85A7.45 7.45 0 0 1 9.3-2.25V2.25A7.45 7.45 0 0 1 1.85 9.7H-1.85A7.45 7.45 0 0 1-9.3 2.25V-2.25A7.45 7.45 0 0 1-1.85-9.7ZM0-3.8A3.8 3.8 0 0 0 0 3.8A3.8 3.8 0 0 0 0-3.8Z"/>
<path class="bc" transform="translate(2266 3085.62)" d="M-1.85-9.7H1.85A7.45 7.45 0 0 1 9.3-2.25V2.25A7.45 7.45 0 0 1 1.85 9.7H-1.85A7.45 7.45 0 0 1-9.3 2.25V-2.25A7.45 7.45 0 0 1-1.85-9.7ZM0-3.8A3.8 3.8 0 0 0 0 3.8A3.8 3.8 0 0 0 0-3.8Z"/>
<path class="rd" d="M337.5 4017.77L439 3607.5L540.5 3492.87L642 3360.13L743.5 3254.55L845 3203.27L946.5 3185.17L1048 3161.03L1149.5 3142.93L1251 3127.85L1352.5 3091.65L1454 3070.53L1555.5 3070.53L1657 3073.55L1758.5 3052.43L1860 3049.42L1961.5 3016.23L2063 3031.32L2164.5 3028.3L2266 3049.42M338.78 4019.05L440.28 3608.78L541.78 3494.15L643.28 3361.41L744.78 3255.83L846.28 3204.55L947.78 3186.45L1049.28 3162.31L1150.78 3144.21L1252.28 3129.13L1353.78 3092.93L1455.28 3071.81L1556.78 3071.81L1658.28 3074.83L1759.78 3053.71L1861.28 3050.7L1962.78 3017.51L2064.28 3032.6L2165.78 3029.58L2266 3050.7M338.78 4016.49L440.28 3606.22L541.78 3491.59L643.28 3358.85L744.78 3253.27L846.28 3201.99L947.78 3183.89L1049.28 3159.75L1150.78 3141.65L1252.28 3126.57L1353.78 3090.37L1455.28 3069.25L1556.78 3069.25L1658.28 3072.27L1759.78 3051.15L1861.28 3048.14L1962.78 3014.95L2064.28 3030.04L2165.78 3027.02L2266 3048.14M337.5 4019.05L437.72 3608.78L539.22 3494.15L640.72 3361.41L742.22 3255.83L843.72 3204.55L945.22 3186.45L1046.72 3162.31L1148.22 3144.21L1249.72 3129.13L1351.22 3092.93L1452.72 3071.81L1554.22 3071.81L1655.72 3074.83L1757.22 3053.71L1858.72 3050.7L1960.22 3017.51L2061.72 3032.6L2163.22 3029.58L2264.72 3050.7M337.5 4016.49L437.72 3606.22L539.22 3491.59L640.72 3358.85L742.22 3253.27L843.72 3201.99L945.22 3183.89L1046.72 3159.75L1148.22 3141.65L1249.72 3126.57L1351.22 3090.37L1452.72 3069.25L1554.22 3069.25L1655.72 3072.27L1757.22 3051.15L1858.72 3048.14L1960.22 3014.95L2061.72 3030.04L2163.22 3027.02L2264.72 3048.14"/>
<path class="rt" transform="translate(337.5 4017.77)" d="M0-15L12.5 7.35H-12.5ZM0-2.8L-3.5 2.3H3.5Z"/>
<path class="rt" transform="translate(439 3607.5)" d="M0-15L12.5 7.35H-12.5ZM0-2.8L-3.5 2.3H3.5Z"/>
<path class="rt" transform="translate(540.5 3492.87)" d="M0-15L12.5 7.35H-12.5ZM0-2.8L-3.5 2.3H3.5Z"/>
<path class="rt" transform="translate(642 3360.13)" d="M0-15L12.5 7.35H-12.5ZM0-2.8L-3.5 2.3H3.5Z"/>
<path class="rt" transform="translate(743.5 3254.55)" d="M0-15L12.5 7.35H-12.5ZM0-2.8L-3.5 2.3H3.5Z"/>
<path class="rt" transform="translate(845 3203.27)" d="M0-15L12.5 7.35H-12.5ZM0-2.8L-3.5 2.3H3.5Z"/>
<path class="rt" transform="translate(946.5 3185.17)" d="M0-15L12.5 7.35H-12.5ZM0-2.8L-3.5 2.3H3.5Z"/>
<path class="rt" transform="translate(1048 3161.03)" d="M0-15L12.5 7.35H-12.5ZM0-2.8L-3.5 2.3H3.5Z"/>
<path class="rt" transform="translate(1149.5 3142.93)" d="M0-15L12.5 7.35H-12.5ZM0-2.8L-3.5 2.3H3.5Z"/>
<path class="rt" transform="translate(1251 3127.85)" d="M0-15L12.5 7.35H-12.5ZM0-2.8L-3.5 2.3H3.5Z"/>
<path class="rt" transform="translate(1352.5 3091.65)" d="M0-15L12.5 7.35H-12.5ZM0-2.8L-3.5 2.3H3.5Z"/>
<path class="rt" transform="translate(1454 3070.53)" d="M0-15L12.5 7.35H-12.5ZM0-2.8L-3.5 2.3H3.5Z"/>
<path class="rt" transform="translate(1555.5 3070.53)" d="M0-15L12.5 7.35H-12.5ZM0-2.8L-3.5 2.3H3.5Z"/>
<path class="rt" transform="translate(1657 3073.55)" d="M0-15L12.5 7.35H-12.5ZM0-2.8L-3.5 2.3H3.5Z"/>
<path class="rt" transform="translate(1758.5 3052.43)" d="M0-15L12.5 7.35H-12.5ZM0-2.8L-3.5 2.3H3.5Z"/>
<path class="rt" transform="translate(1860 3049.42)" d="M0-15L12.5 7.35H-12.5ZM0-2.8L-3.5 2.3H3.5Z"/>
<path class="rt" transform="translate(1961.5 3016.23)" d="M0-15L12.5 7.35H-12.5ZM0-2.8L-3.5 2.3H3.5Z"/>
<path class="rt" transform="translate(2063 3031.32)" d="M0-15L12.5 7.35H-12.5ZM0-2.8L-3.5 2.3H3.5Z"/>
<path class="rt" transform="translate(2164.5 3028.3)" d="M0-15L12.5 7.35H-12.5ZM0-2.8L-3.5 2.3H3.5Z"/>
<path class="rt" transform="translate(2266 3049.42)" d="M0-15L12.5 7.35H-12.5ZM0-2.8L-3.5 2.3H3.5Z"/>
<rect x="265.5" y="3028.5" width="228" height="147" fill="#fff" stroke="#262626" stroke-width="1" shape-rendering="crispEdges"/>
<path class="bk" d="M272 3066.5H341"/>
<path class="bc" transform="translate(306.5 3066.5)" d="M-1.85-9.7H1.85A7.45 7.45 0 0 1 9.3-2.25V2.25A7.45 7.45 0 0 1 1.85 9.7H-1.85A7.45 7.45 0 0 1-9.3 2.25V-2.25A7.45 7.45 0 0 1-1.85-9.7ZM0-3.8A3.8 3.8 0 0 0 0 3.8A3.8 3.8 0 0 0 0-3.8Z"/>
<path class="rk" d="M272 3137H341"/>
<path class="rt" transform="translate(306.5 3137)" d="M0-15L12.5 7.35H-12.5ZM0-2.8L-3.5 2.3H3.5Z"/>
<text class="lg" transform="translate(345 3089.4) scale(1 1.02)">GIoU</text>
<text class="lg" transform="translate(345 3160.9) scale(1 1.02)">SIoU</text>
</g>
</svg>
</body></html>
